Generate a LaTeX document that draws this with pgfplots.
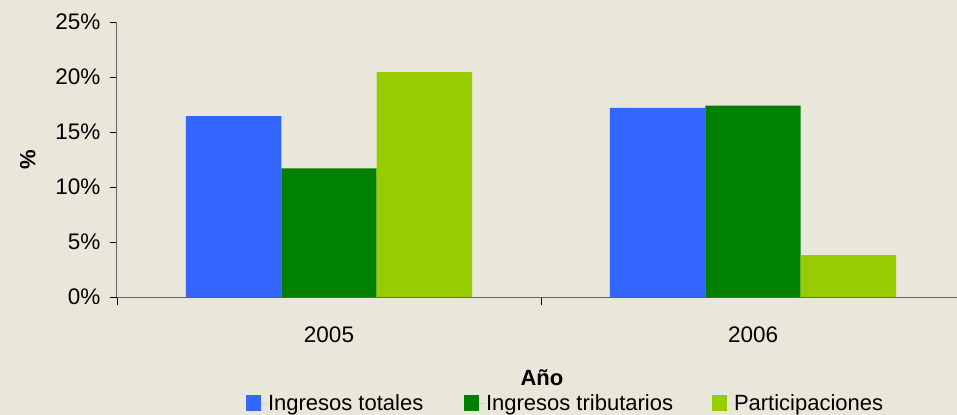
\documentclass[border=0pt]{standalone}
\usepackage{pgfplots}
\pgfplotsset{compat=1.18}
\usepackage{fontspec}
\setmainfont{Liberation Sans}
\definecolor{bg}{RGB}{233,231,218}
\definecolor{cblue}{HTML}{3366FF}
\definecolor{cgreen}{HTML}{008000}
\definecolor{clime}{HTML}{99CC00}
\definecolor{axgray}{RGB}{100,100,100}
\begin{document}
\begin{tikzpicture}
\path[use as bounding box, fill=bg] (-329bp,-118bp) rectangle (628bp,297bp);
\begin{axis}[
  at={(0,0)}, anchor=origin,
  scale only axis,
  width=840bp, height=275bp,
  xmin=-0.5, xmax=1.481,
  ymin=0, ymax=25,
  axis x line=bottom, axis y line=left,
  axis line style={-, axgray, line width=1pt},
  ybar=0pt, bar width=0.225,
  ytick={0,5,10,15,20,25},
  yticklabels={0\%,5\%,10\%,15\%,20\%,25\%},
  xtick={0,1}, xticklabels={2005,2006},
  minor xtick={-0.5,0.5,1.5},
  tick align=outside,
  major x tick style={draw=none},
  minor tick length=8bp, major tick length=7bp,
  tick style={black, line width=0.8pt},
  ticklabel style={font=\fontsize{22.5bp}{27bp}\selectfont},
  yticklabel style={xshift=-6bp},
  xticklabel style={yshift=-19bp},
  ylabel={\textbf{\%}},
  ylabel style={font=\fontsize{22bp}{26bp}\selectfont, yshift=13bp},
  xlabel={\textbf{Año}},
  xlabel style={font=\fontsize{22bp}{26bp}\selectfont, at={(rel axis cs:0.5,0)}, anchor=base, yshift=-88bp, xshift=5bp},
  legend columns=3,
  legend style={draw=none, fill=none, inner sep=0pt, outer sep=0pt,
    at={(rel axis cs:0.1536,-0.3855)}, anchor=west,
    column sep=0pt,
    nodes={inner sep=0pt, font=\fontsize{22bp}{26bp}\selectfont}},
  legend image code/.code={\fill[#1,draw=none] (0bp,-8bp) rectangle (15bp,8bp); \path (0bp,0bp) -- (22bp,0bp);},
]
\addplot[fill=cblue, draw=none] coordinates {(0,16.45) (1,17.2)};
\addplot[fill=cgreen, draw=none] coordinates {(0,11.7) (1,17.4)};
\addplot[fill=clime, draw=none] coordinates {(0,20.45) (1,3.8)};
\legend{\makebox[196bp][l]{Ingresos totales},\makebox[226bp][l]{Ingresos tributarios},Participaciones}
\end{axis}
\end{tikzpicture}
\end{document}
